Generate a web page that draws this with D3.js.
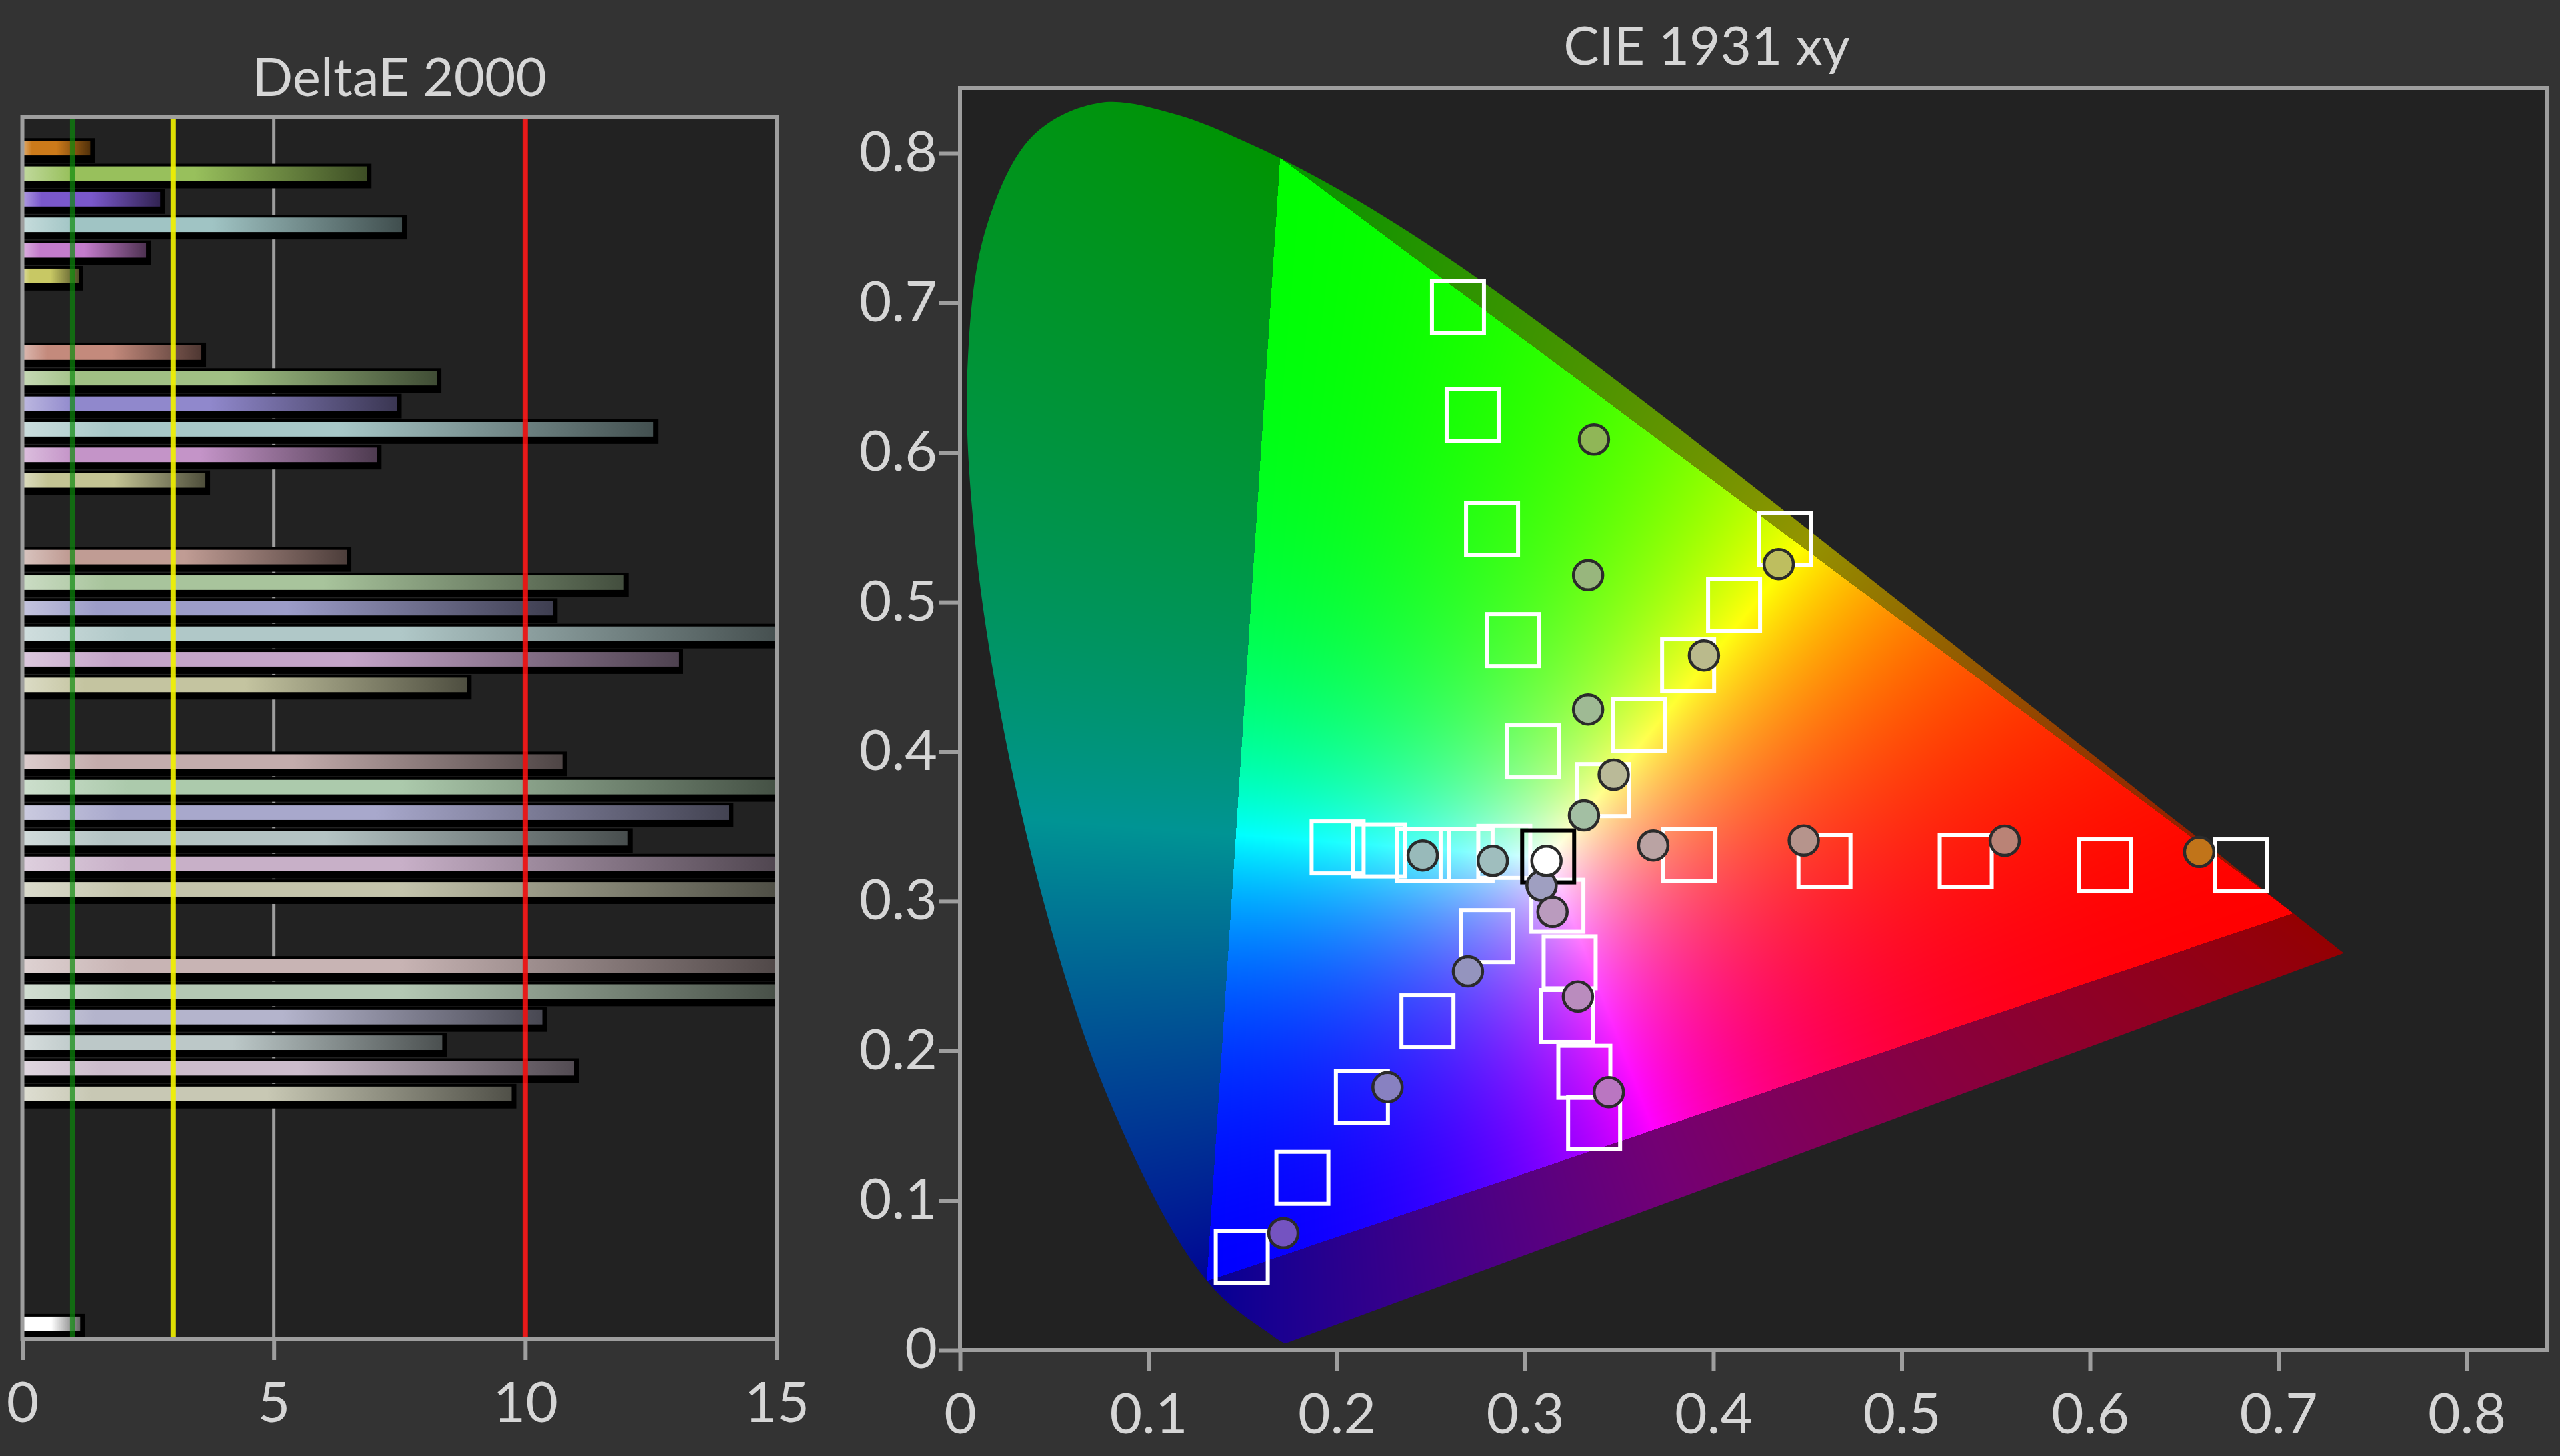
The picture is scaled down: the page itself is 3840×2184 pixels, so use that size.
<!DOCTYPE html>
<html><head><meta charset="utf-8">
<script src="https://cdn.jsdelivr.net/npm/d3@7"></script>
<style>
html,body{margin:0;padding:0;background:#333333;overflow:hidden;}
svg{display:block;}
</style></head><body>
<svg id="chart" width="3840" height="2184"></svg>
<script>
// ================= DATA =================
const colorNames = ["Red", "Green", "Blue", "Cyan", "Magenta", "Yellow"];
const levels = ["100%", "80%", "60%", "40%", "20%"];

// DeltaE 2000 per saturation level (Red, Green, Blue, Cyan, Magenta, Yellow); 15 = off scale
const deltaE100 = [1.35, 6.85, 2.74, 7.55, 2.46, 1.12];
const deltaE80  = [3.56, 8.24, 7.45, 12.55, 7.05, 3.64];
const deltaE60  = [6.45, 11.96, 10.55, 15, 13.05, 8.84];
const deltaE40  = [10.74, 15, 14.05, 12.04, 15, 15];
const deltaE20  = [15, 15, 10.34, 8.35, 10.97, 9.73];
const whiteDeltaE = 1.15;

// measured colours (bars and measurement dots)
const colors100 = ["#cc7a1a", "#98c05c", "#7a58cc", "#a0c4c4", "#c47ccc", "#c8c864"];
const colors80  = ["#c48a7c", "#a0c084", "#9088cc", "#a8c8c8", "#c494c8", "#c4c494"];
const colors60  = ["#c09c94", "#a8c49c", "#9c9cc8", "#b0c8c8", "#c4a4c8", "#c4c4a0"];
const colors40  = ["#c4acac", "#accaac", "#a8a8cc", "#b4c4c4", "#c8b0c8", "#c4c4ac"];
const colors20  = ["#c8b4b4", "#b4c8b4", "#b4b4cc", "#bcc8c8", "#ccbccc", "#c8c8b4"];
const whiteColor = "#ffffff";

const deltaTicks = [0, 5, 10, 15];
const deltaRefLines = [1, 3, 10];
const deltaRefColors = ["#0c8a0c", "#f0f000", "#ee1010"];

// CIE 1931 targets (100%,80%,60%,40%,20%)
const targetRed     = [[0.680,0.324],[0.608,0.324],[0.534,0.327],[0.459,0.327],[0.387,0.331]];
const targetGreen   = [[0.2644,0.6974],[0.2722,0.6252],[0.2825,0.549],[0.2938,0.4746],[0.3044,0.4002]];
const targetBlue    = [[0.1496,0.0624],[0.1818,0.1151],[0.2134,0.169],[0.2482,0.2197],[0.2797,0.2767]];
const targetCyan    = [[0.2005,0.336],[0.2225,0.334],[0.246,0.331],[0.269,0.331],[0.289,0.333]];
const targetMagenta = [[0.3367,0.1517],[0.3315,0.186],[0.3223,0.2233],[0.3237,0.2592],[0.3172,0.297]];
const targetYellow  = [[0.4379,0.5423],[0.411,0.498],[0.3866,0.4577],[0.3604,0.418],[0.3413,0.3743]];
const targetWhite   = [0.3123, 0.330];

// measured points (visible ones, 100% first)
const measRed     = [[0.658,0.333],[0.5547,0.3405],[0.448,0.3406],[0.3681,0.3373]];
const measGreen   = [[0.3366,0.6087],[0.3335,0.518],[0.3335,0.4282],[0.3313,0.3574]];
const measBlue    = [[0.1717,0.0781],[0.2270,0.1757],[0.2697,0.2531],[0.3088,0.3104]];
const measCyan    = [[0.2457,0.3306],[0.2829,0.327]];
const measMagenta = [[0.3445,0.1724],[0.3281,0.2363],[0.3146,0.2929]];
const measYellow  = [[0.4347,0.5254],[0.395,0.4643],[0.3471,0.3846]];
const measWhite   = [0.3114, 0.327];

const cieTicks = [0, 0.1, 0.2, 0.3, 0.4, 0.5, 0.6, 0.7, 0.8];

// CIE 1931 2° spectral locus, 380–700 nm
const spectralLocus = [
[0.1741,0.0050],[0.1740,0.0050],[0.1738,0.0049],[0.1736,0.0049],[0.1733,0.0048],[0.1730,0.0048],
[0.1726,0.0048],[0.1721,0.0048],[0.1714,0.0051],[0.1703,0.0058],[0.1689,0.0069],[0.1669,0.0086],
[0.1644,0.0109],[0.1611,0.0138],[0.1566,0.0177],[0.1510,0.0227],[0.1440,0.0297],[0.1355,0.0399],
[0.1241,0.0578],[0.1096,0.0868],[0.0913,0.1327],[0.0687,0.2007],[0.0454,0.2950],[0.0235,0.4127],
[0.0082,0.5384],[0.0039,0.6548],[0.0139,0.7502],[0.0389,0.8120],[0.0743,0.8338],[0.1142,0.8262],
[0.1547,0.8059],[0.1929,0.7816],[0.2296,0.7543],[0.2658,0.7243],[0.3016,0.6923],[0.3373,0.6589],
[0.3731,0.6245],[0.4087,0.5896],[0.4441,0.5547],[0.4788,0.5202],[0.5125,0.4866],[0.5448,0.4544],
[0.5752,0.4242],[0.6029,0.3965],[0.6270,0.3725],[0.6482,0.3514],[0.6658,0.3340],[0.6801,0.3197],
[0.6915,0.3083],[0.7006,0.2993],[0.7079,0.2920],[0.7140,0.2859],[0.7190,0.2809],[0.7230,0.2770],
[0.7260,0.2740],[0.7283,0.2717],[0.7300,0.2700],[0.7311,0.2689],[0.7320,0.2680],[0.7334,0.2666],
[0.7347,0.2653]];

// ================= LAYOUT =================
const FONT = "Lato, 'Open Sans', sans-serif";
const TEXT = "#d6d6d6";
const FRAME = "#9e9e9e";
const PLOTBG = "#222222";
const FS = 84;
const TFS = 80;

const svg = d3.select("#chart");
const defs = svg.append("defs");

// ---------- Left: DeltaE 2000 ----------
const L = {x0: 33.5, x1: 1165, y0: 176, y1: 2008};
const xD = d3.scaleLinear().domain([0, 15]).range([L.x0, L.x1]);

const deltaByLevel = [deltaE100, deltaE80, deltaE60, deltaE40, deltaE20];
const colorsByLevel = [colors100, colors80, colors60, colors40, colors20];

const bars = [];
const slots = [];
levels.forEach((lv, li) => {
  colorNames.forEach((cn, ci) => {
    const key = cn + " " + lv;
    slots.push(key);
    bars.push({key, value: deltaByLevel[li][ci], color: colorsByLevel[li][ci]});
  });
  slots.push("gap" + li + "a", "gap" + li + "b");
});
for (let k = 0; k < 6; k++) slots.push("pad" + k);
slots.push("White");
bars.push({key: "White", value: whiteDeltaE, color: whiteColor});

const yB = d3.scaleBand().domain(slots).range([203, 2005]).paddingInner(0.43).paddingOuter(0.215);

svg.append("text").attr("x", (L.x0 + L.x1) / 2).attr("y", 144)
  .attr("text-anchor", "middle").attr("font-family", FONT).attr("font-size", TFS)
  .attr("fill", TEXT).text("DeltaE 2000");

const left = svg.append("g");
left.append("rect").attr("x", L.x0).attr("y", L.y0).attr("width", L.x1 - L.x0).attr("height", L.y1 - L.y0).attr("fill", PLOTBG);

defs.append("clipPath").attr("id", "leftClip").append("rect")
  .attr("x", L.x0).attr("y", L.y0).attr("width", L.x1 - L.x0).attr("height", L.y1 - L.y0);

left.selectAll("line.grid").data([5, 10]).join("line").attr("class", "grid")
  .attr("x1", d => xD(d)).attr("x2", d => xD(d)).attr("y1", L.y0).attr("y2", L.y1)
  .attr("stroke", FRAME).attr("stroke-width", 5);

bars.forEach((b, i) => {
  const g = defs.append("linearGradient").attr("id", "bg" + i).attr("x1", 0).attr("x2", 1).attr("y1", 0).attr("y2", 0);
  g.append("stop").attr("offset", 0).attr("stop-color", d3.interpolateRgb(b.color, "#ffffff")(0.4));
  g.append("stop").attr("offset", 0.14).attr("stop-color", b.color);
  g.append("stop").attr("offset", 0.5).attr("stop-color", b.color);
  g.append("stop").attr("offset", 1).attr("stop-color", d3.interpolateRgb(b.color, "#000000")(0.6));
});

const barG = left.append("g").attr("clip-path", "url(#leftClip)");
barG.selectAll("rect.shadow").data(bars).join("rect").attr("class", "shadow")
  .attr("x", xD(0)).attr("y", d => yB(d.key) - 4)
  .attr("width", d => xD(Math.min(d.value, 15)) - xD(0) + 7)
  .attr("height", yB.bandwidth() + 15).attr("fill", "#000");
barG.selectAll("rect.bar").data(bars).join("rect").attr("class", "bar")
  .attr("x", xD(0)).attr("y", d => yB(d.key))
  .attr("width", d => xD(Math.min(d.value, 15)) - xD(0))
  .attr("height", yB.bandwidth()).attr("fill", (d, i) => "url(#bg" + i + ")");

left.selectAll("line.ref").data(deltaRefLines).join("line").attr("class", "ref")
  .attr("x1", d => xD(d)).attr("x2", d => xD(d)).attr("y1", L.y0).attr("y2", L.y1)
  .attr("stroke", (d, i) => deltaRefColors[i]).attr("stroke-width", 8)
  .attr("stroke-opacity", (d, i) => i === 0 ? 0.7 : 0.92);

left.append("rect").attr("x", L.x0).attr("y", L.y0).attr("width", L.x1 - L.x0).attr("height", L.y1 - L.y0)
  .attr("fill", "none").attr("stroke", FRAME).attr("stroke-width", 6);

const axD = left.append("g").attr("transform", `translate(0,${L.y1})`)
  .call(d3.axisBottom(xD).tickValues(deltaTicks).tickSize(32).tickPadding(33).tickFormat(d3.format("d")));
axD.select(".domain").remove();
axD.selectAll("line").attr("stroke", FRAME).attr("stroke-width", 6);
axD.selectAll("text").attr("fill", TEXT).attr("font-size", FS).attr("font-family", FONT);

// ---------- Right: CIE 1931 xy ----------
const R = {x0: 1440, x1: 3820, y0: 132, y1: 2025};
const xC = d3.scaleLinear().domain([0, 0.8]).range([1440, 3700]);
const yC = d3.scaleLinear().domain([0, 0.8]).range([2025, 230]);

svg.append("text").attr("x", 2560).attr("y", 97)
  .attr("text-anchor", "middle").attr("font-family", FONT).attr("font-size", TFS)
  .attr("fill", TEXT).text("CIE 1931 xy");

const right = svg.append("g");
right.append("rect").attr("x", R.x0).attr("y", R.y0).attr("width", R.x1 - R.x0).attr("height", R.y1 - R.y0).attr("fill", PLOTBG);

// chromaticity fill
const locusPath = d3.line().x(d => xC(d[0])).y(d => yC(d[1])).curve(d3.curveCatmullRom)(spectralLocus) + "Z";
defs.append("clipPath").attr("id", "locusClip").append("path").attr("d", locusPath);

(function drawHorseshoe() {
  const W = Math.round(R.x1 - R.x0), H = Math.round(R.y1 - R.y0);
  const cv = document.createElement("canvas");
  cv.width = W; cv.height = H;
  const ctx = cv.getContext("2d");
  const img = ctx.createImageData(W, H);
  const d = img.data;
  const xs = new Float64Array(W), ys = new Float64Array(H);
  for (let i = 0; i < W; i++) xs[i] = xC.invert(R.x0 + i + 0.5);
  for (let j = 0; j < H; j++) ys[j] = yC.invert(R.y0 + j + 0.5);
  for (let j = 0; j < H; j++) {
    const yv = Math.max(ys[j], 0.002);
    for (let i = 0; i < W; i++) {
      const xv = xs[i];
      const X = xv / yv, Z = (1 - xv - yv) / yv;
      let r = 1.7166512 * X - 0.3556708 - 0.2533663 * Z;
      let g = -0.6666844 * X + 1.6164812 + 0.0157685 * Z;
      let b = 0.0176399 * X - 0.0427706 + 0.9421031 * Z;
      const inside = r >= 0 && g >= 0 && b >= 0;
      r = r > 0 ? r : 0; g = g > 0 ? g : 0; b = b > 0 ? b : 0;
      const m = Math.max(r, g, b) || 1;
      r /= m; g /= m; b /= m;
      const k = (j * W + i) * 4;
      if (inside) {
        d[k] = 255 * Math.pow(r, 1.6); d[k + 1] = 255 * Math.pow(g, 1.6); d[k + 2] = 255 * Math.pow(b, 1.6);
      } else {
        const f = 148 * (1 - 0.22 * Math.min(r, b));
        d[k] = f * Math.pow(r, 0.75); d[k + 1] = f * Math.pow(g, 0.75); d[k + 2] = f * Math.pow(b, 0.75);
      }
      d[k + 3] = 255;
    }
  }
  ctx.putImageData(img, 0, 0);
  right.append("image").attr("x", R.x0).attr("y", R.y0).attr("width", W).attr("height", H)
    .attr("preserveAspectRatio", "none").attr("href", cv.toDataURL("image/png"))
    .attr("clip-path", "url(#locusClip)");
})();

// targets
const targetsAll = [targetRed, targetGreen, targetBlue, targetCyan, targetMagenta, targetYellow];
const SQ = 78;
const targets = [];
targetsAll.forEach(arr => arr.forEach(p => targets.push({x: p[0], y: p[1]})));
right.selectAll("rect.target").data(targets).join("rect").attr("class", "target")
  .attr("x", d => xC(d.x) - SQ / 2).attr("y", d => yC(d.y) - SQ / 2)
  .attr("width", SQ).attr("height", SQ).attr("fill", "none")
  .attr("stroke", "#ffffff").attr("stroke-width", 6);
right.append("rect").datum({x: targetWhite[0], y: targetWhite[1]})
  .attr("x", d => xC(d.x) - SQ / 2).attr("y", d => yC(d.y) - SQ / 2)
  .attr("width", SQ).attr("height", SQ).attr("fill", "none")
  .attr("stroke", "#000000").attr("stroke-width", 6);

// measurements
const measAll = [measRed, measGreen, measBlue, measCyan, measMagenta, measYellow];
const meas = [];
measAll.forEach((arr, ci) => arr.forEach((p, li) => meas.push({x: p[0], y: p[1], color: colorsByLevel[li][ci]})));
meas.push({x: measWhite[0], y: measWhite[1], color: whiteColor});
right.selectAll("circle.meas").data(meas).join("circle").attr("class", "meas")
  .attr("cx", d => xC(d.x)).attr("cy", d => yC(d.y)).attr("r", 22)
  .attr("fill", d => d.color === whiteColor ? d.color : d3.color(d.color).darker(0.15))
  .attr("stroke", "#2b2b2b").attr("stroke-width", 4.5);

right.append("rect").attr("x", R.x0).attr("y", R.y0).attr("width", R.x1 - R.x0).attr("height", R.y1 - R.y0)
  .attr("fill", "none").attr("stroke", FRAME).attr("stroke-width", 6);

const fmt = d => d === 0 ? "0" : d3.format(".1f")(d);
const axX = right.append("g").attr("transform", `translate(0,${R.y1})`)
  .call(d3.axisBottom(xC).tickValues(cieTicks).tickSize(32).tickPadding(33).tickFormat(fmt));
const axY = right.append("g").attr("transform", `translate(${R.x0},0)`)
  .call(d3.axisLeft(yC).tickValues(cieTicks).tickSize(31).tickPadding(3).tickFormat(fmt));
[axX, axY].forEach(a => {
  a.select(".domain").remove();
  a.selectAll("line").attr("stroke", FRAME).attr("stroke-width", 6);
  a.selectAll("text").attr("fill", TEXT).attr("font-size", FS).attr("font-family", FONT);
});
</script>
</body></html>
